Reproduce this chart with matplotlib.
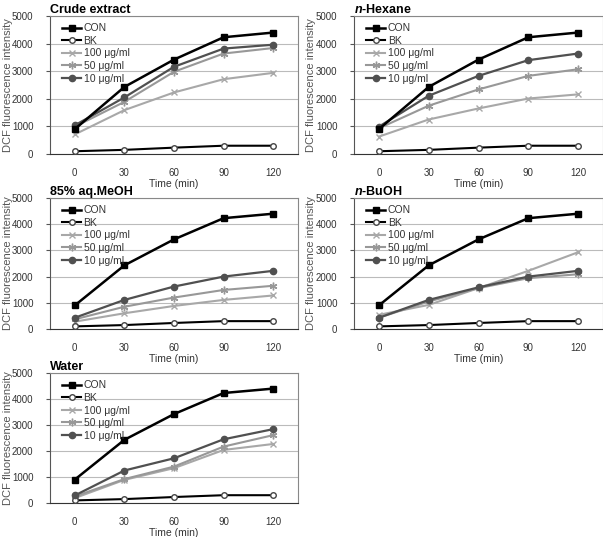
import matplotlib
matplotlib.use("Agg")
import matplotlib.pyplot as plt
import numpy as np

times = [0, 30, 60, 90, 120]
labels = ["CON", "BK", "100 μg/ml", "50 μg/ml", "10 μg/ml"]

con = [900, 2430, 3420, 4230, 4400]
bk = [100, 150, 230, 300, 300]

crude_100 = [710, 1590, 2230, 2710, 2940]
crude_50 = [990, 1890, 2980, 3640, 3840]
crude_10 = [1040, 2050, 3160, 3820, 3960]

hexane_100 = [630, 1250, 1650, 2010, 2160]
hexane_50 = [930, 1750, 2340, 2830, 3070]
hexane_10 = [990, 2110, 2830, 3400, 3640]

meoh_100 = [280, 600, 880, 1110, 1280]
meoh_50 = [370, 850, 1200, 1490, 1650]
meoh_10 = [430, 1110, 1620, 2000, 2220]

buoh_100 = [540, 920, 1560, 2220, 2930]
buoh_50 = [430, 1050, 1560, 1940, 2090]
buoh_10 = [430, 1110, 1590, 2000, 2220]

water_100 = [190, 890, 1340, 2040, 2270]
water_50 = [255, 920, 1400, 2170, 2610]
water_10 = [290, 1250, 1720, 2450, 2840]

panels = [
    ("Crude extract", crude_100, crude_50, crude_10),
    ("$\\mathbfit{n}$-Hexane", hexane_100, hexane_50, hexane_10),
    ("85% aq.MeOH", meoh_100, meoh_50, meoh_10),
    ("$\\mathbfit{n}$-BuOH", buoh_100, buoh_50, buoh_10),
    ("Water", water_100, water_50, water_10),
]

# axes boxes in pixels: left, right, top, bottom
boxes = [
    (50, 298, 16, 154),
    (354, 603, 16, 154),
    (50, 298, 198, 329),
    (354, 603, 198, 329),
    (50, 298, 373, 503),
]
# x pixel of the y label centre
ylab_x = [8, 311, 8, 311, 8]

W, H = 603, 537
matplotlib.rc("font", family=["Liberation Sans", "DejaVu Sans"])
matplotlib.rcParams["mathtext.fontset"] = "custom"
matplotlib.rcParams["mathtext.bfit"] = "Liberation Sans:italic:bold"
fig = plt.figure(figsize=(W / 100, H / 100), dpi=100)

for (title, s100, s50, s10), (l, r, t, b), yx in zip(panels, boxes, ylab_x):
    ax = fig.add_axes([l / W, 1 - b / H, (r - l) / W, (b - t) / H])
    x = np.arange(len(times))
    ax.plot(x, con, color="black", lw=1.8, marker="s", ms=4.5, label=labels[0], zorder=5)
    ax.plot(x, bk, color="black", lw=1.5, marker="o", ms=4, mfc="white", mec="#444444",
            label=labels[1], zorder=4)
    ax.plot(x, s100, color="#a8a8a8", lw=1.5, marker="x", ms=4.5, mew=1.0, label=labels[2], zorder=3)
    ax.plot(x, s50, color="#989898", lw=1.5, marker=(6, 2, 0), ms=5.5, mew=1.0, label=labels[3], zorder=3)
    ax.plot(x, s10, color="#505050", lw=1.6, marker="o", ms=4.5, label=labels[4], zorder=4)

    ax.set_xlim(-0.5, 4.5)
    ax.set_ylim(0, 5000)
    ax.set_yticks([0, 1000, 2000, 3000, 4000, 5000])
    ax.set_xticks(x)
    ax.set_xticklabels([str(v) for v in times])
    ax.yaxis.grid(True, color="#bbbbbb", lw=0.8)
    ax.set_axisbelow(True)
    for side in ["top", "right"]:
        ax.spines[side].set_color("#888888")
        ax.spines[side].set_linewidth(0.8)
    ax.spines["left"].set_color("#555555")
    ax.spines["bottom"].set_color("#333333")
    ax.tick_params(axis="x", length=0, pad=10, labelsize=7, labelcolor="#333333")
    ax.tick_params(axis="y", length=3, width=0.8, color="#555555", pad=9,
                   labelsize=7, labelcolor="#333333")
    ax.set_xlabel("Time (min)", fontsize=7.5, color="#333333", labelpad=1)
    ax.set_ylabel("DCF fluorescence intensity", fontsize=8, color="#555555")
    ax.yaxis.label.set_va("center")
    ax.yaxis.set_label_coords((yx - l) / (r - l), 0.5)
    ax.set_title(title, loc="left", fontsize=9, fontweight="bold", pad=2)

    leg = ax.legend(loc="upper left", frameon=False, fontsize=7.5, handlelength=1.8,
                    handletextpad=0.25, labelspacing=0.25, borderaxespad=0.3,
                    bbox_to_anchor=(0.02, 1.0))
    for txt in leg.get_texts():
        txt.set_color("#333333")

fig.savefig("out.png", dpi=100)
